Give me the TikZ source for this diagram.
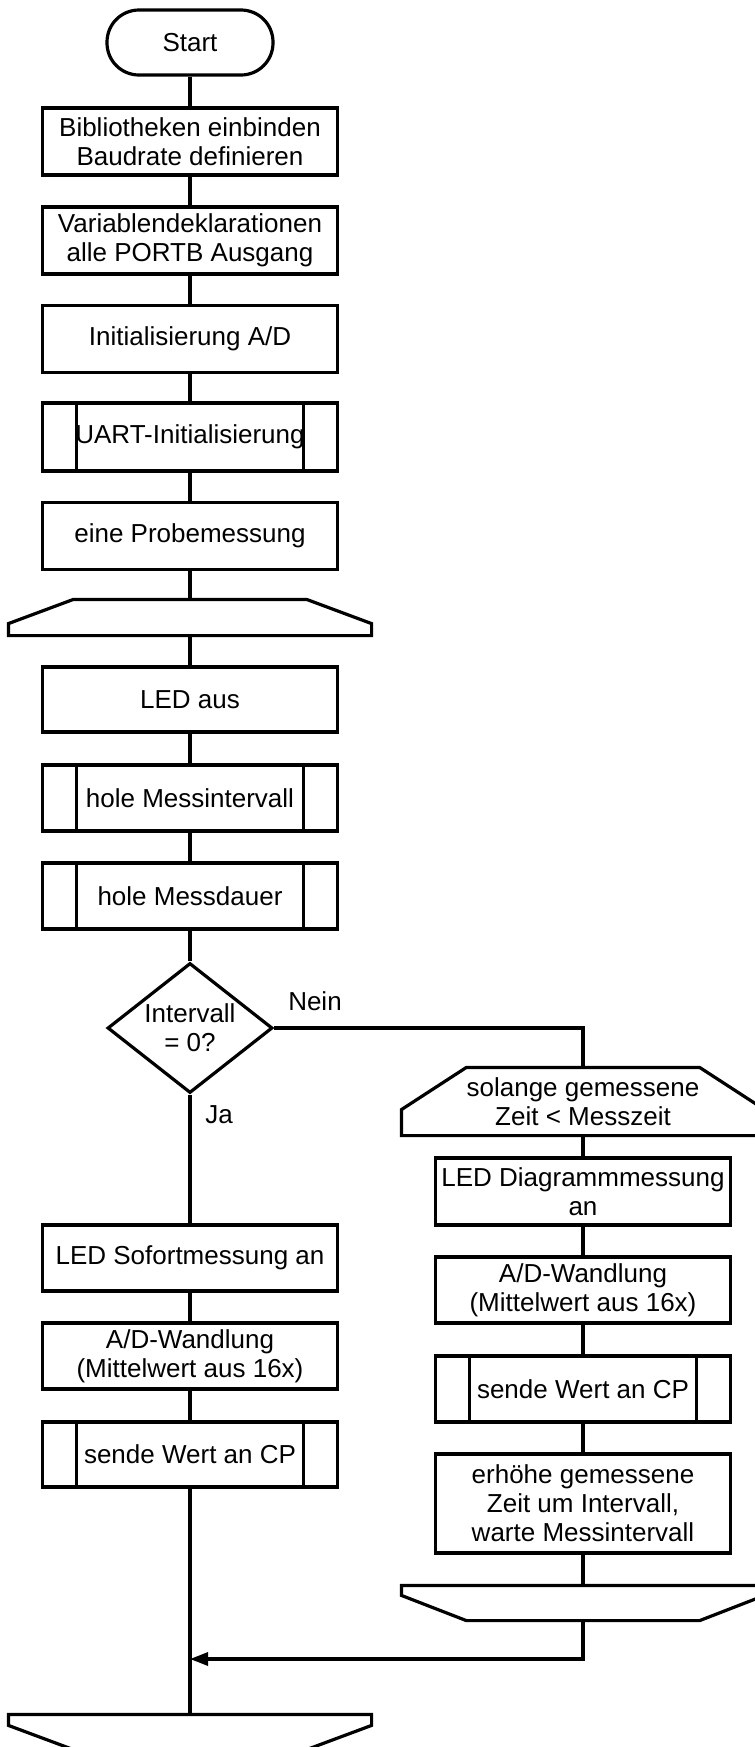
\documentclass[tikz,border=0pt]{standalone}
\usepackage{fontspec}
\setmainfont{Liberation Sans}
\usetikzlibrary{shapes.geometric,arrows.meta,positioning}

\tikzset{
    terminal/.style={draw, rounded corners=16pt, minimum width=83pt, minimum height=32.5pt, inner sep=0pt},
    process/.style={draw, minimum width=147.5pt, minimum height=33pt, inner sep=0pt, align=center},
    subproc/.style={process, path picture={
        \draw ([xshift=17pt]path picture bounding box.north west) -- ([xshift=17pt]path picture bounding box.south west)
              ([xshift=-17pt]path picture bounding box.north east) -- ([xshift=-17pt]path picture bounding box.south east);}},
    decision/.style={draw, diamond, aspect=1.27, inner sep=0pt, minimum width=82.5pt, minimum height=65pt, align=center},
    loopbox/.style={minimum width=180pt, inner sep=0pt, align=center}
}

\begin{document}
\begin{tikzpicture}[x=0.5pt, y=-0.5pt, line width=1.6pt, font=\fontsize{13}{14.5}\selectfont]
\useasboundingbox (0,0) rectangle (755,1747);

% Main column
\node[terminal] (start) at (190,42.5) {Start};
\node[process, minimum height=33.5pt] (bib) at (190,141.5) {Bibliotheken einbinden\\Baudrate definieren};
\node[process, minimum height=33.5pt] (var) at (190,240.5) {Variablendeklarationen\\alle PORTB Ausgang};
\node[process, minimum height=33.5pt] (init) at (190,339) {Initialisierung A/D};
\node[subproc, minimum height=34pt] (uart) at (190,437) {UART-Initialisierung};
\node[process, minimum height=33.5pt] (probe) at (190,536) {eine Probemessung};

% Endless loop
\node[loopbox, minimum height=16.5pt] (loopA) at (190,617.5) {};
\node[process, minimum height=32.5pt] (ledaus) at (190,699.5) {LED aus};
\node[subproc] (holeint) at (190,798) {hole Messintervall};
\node[subproc] (holedauer) at (190,896) {hole Messdauer};
\node[decision] (dec) at (190,1028) {Intervall\\= 0?};

% Ja branch
\node[process] (ledsofort) at (190,1258) {LED Sofortmessung an};
\node[process] (adleft) at (190,1356) {A/D-Wandlung\\(Mittelwert aus 16x)};
\node[subproc, minimum height=32.5pt] (sendleft) at (190,1454.5) {sende Wert an CP};
\coordinate (join) at (190,1659);
\node[loopbox, minimum height=16pt] (loopD) at (190,1732) {};

% Nein branch
\node[loopbox, minimum height=32.5pt] (loopB) at (583,1101.5) {solange gemessene\\Zeit < Messzeit};
\node[process, minimum height=33.5pt] (leddiag) at (583,1191.5) {LED Diagrammmessung\\an};
\node[process] (adright) at (583,1290) {A/D-Wandlung\\(Mittelwert aus 16x)};
\node[subproc] (sendright) at (583,1389) {sende Wert an CP};
\node[process, minimum height=49.5pt] (erhoehe) at (583,1503.5) {erhöhe gemessene\\Zeit um Intervall,\\warte Messintervall};
\node[loopbox, minimum height=16pt] (loopC) at (583,1603) {};

% Loop limits
\foreach \n/\h in {loopA/6pt, loopB/13pt} {
    \draw (\n.south west) -- ([yshift=\h]\n.south west) -- ([xshift=32.5pt]\n.north west)
        -- ([xshift=-32.5pt]\n.north east) -- ([yshift=\h]\n.south east) -- (\n.south east) -- cycle;
}
\foreach \n/\h in {loopC/5pt, loopD/5.5pt} {
    \draw (\n.north west) -- ([yshift=-\h]\n.north west) -- ([xshift=32.5pt]\n.south west)
        -- ([xshift=-32.5pt]\n.south east) -- ([yshift=-\h]\n.north east) -- (\n.north east) -- cycle;
}

% Connections
\draw (start) -- (bib);
\draw (bib) -- (var);
\draw (var) -- (init);
\draw (init) -- (uart);
\draw (uart) -- (probe);
\draw (probe) -- (loopA);
\draw (loopA) -- (ledaus);
\draw (ledaus) -- (holeint);
\draw (holeint) -- (holedauer);
\draw (holedauer) -- (dec);
\draw (dec) -- (ledsofort);
\draw (ledsofort) -- (adleft);
\draw (adleft) -- (sendleft);
\draw (sendleft) -- (loopD);
\draw (dec.east) -| (loopB.north);
\draw (loopB) -- (leddiag);
\draw (leddiag) -- (adright);
\draw (adright) -- (sendright);
\draw (sendright) -- (erhoehe);
\draw (erhoehe) -- (loopC);
\draw[-{Triangle[length=9pt, width=6.5pt]}] (loopC.south) |- (join);

% Labels
\node (nein) at (315,1001) {Nein};
\node (ja) at (219,1115) {Ja};
\end{tikzpicture}
\end{document}
